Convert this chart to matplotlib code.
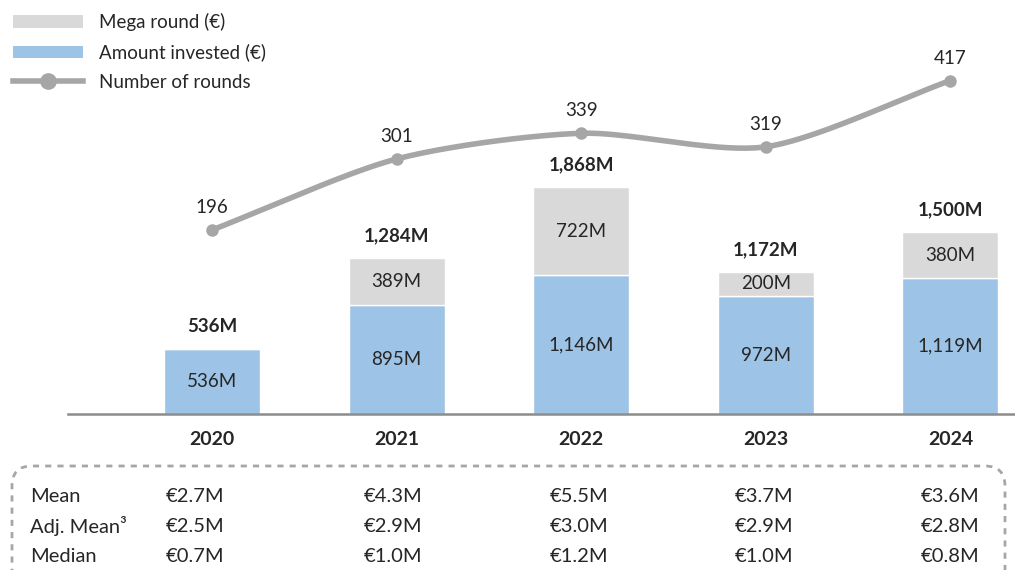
import numpy as np
import matplotlib
matplotlib.use("Agg")
import matplotlib.pyplot as plt
from matplotlib.patches import Patch, FancyBboxPatch
from matplotlib.lines import Line2D
from matplotlib.transforms import IdentityTransform

plt.rcParams['font.family'] = ['Lato', 'DejaVu Sans']

# ---- data ----
years = ["2020", "2021", "2022", "2023", "2024"]
invested = [536, 895, 1146, 972, 1119]          # € millions (excluding mega rounds)
mega = [0, 389, 722, 200, 380]                   # € millions in mega rounds
totals = [536, 1284, 1868, 1172, 1500]
rounds = [196, 301, 339, 319, 417]

stat_labels = ["Mean", "Adj. Mean³", "Median"]
mean_vals = ["€2.7M", "€4.3M", "€5.5M", "€3.7M", "€3.6M"]
adj_mean_vals = ["€2.5M", "€2.9M", "€3.0M", "€2.9M", "€2.8M"]
median_vals = ["€0.7M", "€1.0M", "€1.2M", "€1.0M", "€0.8M"]

BLUE = "#9dc3e6"
GREY = "#d9d9d9"
LINE = "#a6a6a6"
TXT = "#262626"

W, H = 1015, 570
fig = plt.figure(figsize=(W / 100, H / 100), dpi=100)

# main axes: baseline at y=414px, left edge at x=68px
ax_bottom = (H - 414) / H
ax = fig.add_axes([68 / W, ax_bottom, 1 - 68 / W, 1 - ax_bottom])
ax.set_xlim(-0.78, 4.35)
ax.set_ylim(0, 3413)
x = np.arange(len(years))
bw = 0.52

ax.bar(x, invested, bw, color=BLUE, edgecolor="white", linewidth=1, zorder=2)
ax.bar(x, mega, bw, bottom=invested, color=GREY, edgecolor="white", linewidth=1, zorder=2)

for i in range(len(years)):
    ax.text(x[i], invested[i] / 2, f"{invested[i]:,}M", ha="center", va="center",
            fontsize=13.5, color=TXT, zorder=3)
    if mega[i] > 0:
        ax.text(x[i], invested[i] + mega[i] / 2, f"{mega[i]:,}M", ha="center", va="center",
                fontsize=13.5, color=TXT, zorder=3)
    ax.annotate(f"{totals[i]:,}M", (x[i], totals[i]), xytext=(0, 10),
                textcoords="offset points", ha="center", va="bottom",
                fontsize=13.5, fontweight="bold", color=TXT)

for s in ["top", "right", "left"]:
    ax.spines[s].set_visible(False)
ax.spines["bottom"].set_color("#8c8c8c")
ax.spines["bottom"].set_linewidth(1.8)
ax.set_yticks([])
ax.set_xticks(x)
ax.set_xticklabels(years, fontsize=14, fontweight="bold", color=TXT)
ax.tick_params(axis="x", length=0, pad=12)
ax.patch.set_alpha(0)

# rounds on a secondary scale
ax2 = ax.twinx()
ax2.set_ylim(-76, 536)
ax2.set_yticks([])
for s in ax2.spines.values():
    s.set_visible(False)


def smooth(xs, ys, n=40):
    """Catmull-Rom style smoothing through the given points."""
    xs = np.asarray(xs, float)
    ys = np.asarray(ys, float)
    px = np.concatenate([[2 * xs[0] - xs[1]], xs, [2 * xs[-1] - xs[-2]]])
    py = np.concatenate([[2 * ys[0] - ys[1]], ys, [2 * ys[-1] - ys[-2]]])
    ox, oy = [], []
    for k in range(1, len(px) - 2):
        t = np.linspace(0, 1, n)
        p0, p1, p2, p3 = [np.array([px[j], py[j]]) for j in (k - 1, k, k + 1, k + 2)]
        m1 = (p2 - p0) / 2 * 0.8
        m2 = (p3 - p1) / 2 * 0.8
        h00 = 2 * t**3 - 3 * t**2 + 1
        h10 = t**3 - 2 * t**2 + t
        h01 = -2 * t**3 + 3 * t**2
        h11 = t**3 - t**2
        pts = (np.outer(h00, p1) + np.outer(h10, m1) + np.outer(h01, p2) + np.outer(h11, m2))
        ox.extend(pts[:, 0])
        oy.extend(pts[:, 1])
    return np.array(ox), np.array(oy)


sx, sy = smooth(x, rounds)
ax2.plot(sx, sy, color=LINE, lw=4, solid_capstyle="round", zorder=4)
ax2.plot(x, rounds, "o", color=LINE, ms=8, zorder=5)
for i in range(len(years)):
    ax2.annotate(str(rounds[i]), (x[i], rounds[i]), xytext=(0, 10),
                 textcoords="offset points", ha="center", va="bottom",
                 fontsize=13.5, color=TXT)

# legend
handles = [
    Patch(facecolor=GREY, edgecolor="none"),
    Patch(facecolor=BLUE, edgecolor="none"),
    Line2D([0], [0], color=LINE, lw=4, marker="o", ms=11),
]
labels = ["Mega round (€)", "Amount invested (€)", "Number of rounds"]
leg = fig.legend(handles, labels, loc="upper left", bbox_to_anchor=(0.0, 1.0),
                 frameon=False, fontsize=13.5, handlelength=3.75, handleheight=0.65,
                 handletextpad=0.85, labelspacing=0.66, borderaxespad=0.3)
for t in leg.get_texts():
    t.set_color(TXT)

# statistics box, drawn in pixel coordinates
box = FancyBboxPatch((12, -60), W - 22, (H - 466) + 60,
                     boxstyle="round,pad=0,rounding_size=20",
                     transform=IdentityTransform(), fill=False, edgecolor="#a6a6a6",
                     linewidth=2, linestyle=(0, (2.2, 2.2)))
box.set_clip_on(False)
fig.add_artist(box)

col_shift = [-0.09, -0.02, -0.01, -0.01, 0.0]
row_y = [497, 526, 556]
rows = [mean_vals, adj_mean_vals, median_vals]
for r, (lab, vals) in enumerate(zip(stat_labels, rows)):
    yy = 1 - row_y[r] / H
    fig.text(30 / W, yy, lab, ha="left", va="center", fontsize=14.5, color=TXT)
    for i, v in enumerate(vals):
        xf = ax.transData.transform((x[i] + col_shift[i], 0))[0]
        xf = fig.transFigure.inverted().transform((xf, 0))[0]
        fig.text(xf, yy, v, ha="center", va="center", fontsize=14.5, color=TXT)

fig.savefig("out.png", dpi=100)
